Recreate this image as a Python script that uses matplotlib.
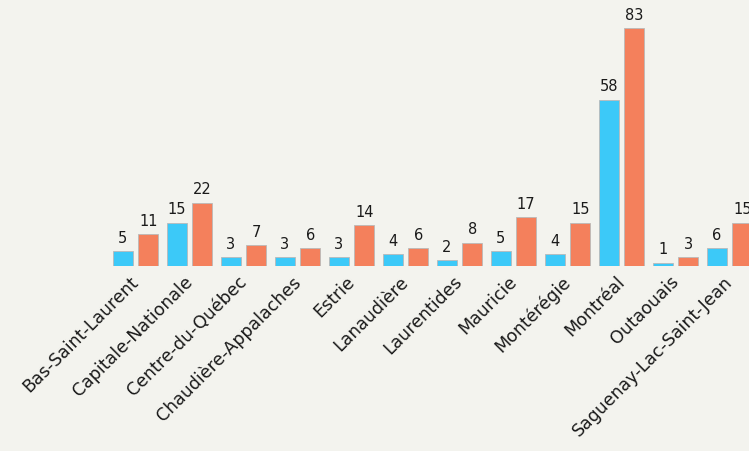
import matplotlib
matplotlib.use("Agg")
import matplotlib.pyplot as plt
import numpy as np

regions = ["Bas-Saint-Laurent", "Capitale-Nationale", "Centre-du-Québec",
           "Chaudière-Appalaches", "Estrie", "Lanaudière", "Laurentides",
           "Mauricie", "Montérégie", "Montréal", "Outaouais",
           "Saguenay-Lac-Saint-Jean"]
series_blue = [5, 15, 3, 3, 3, 4, 2, 5, 4, 58, 1, 6]
series_orange = [11, 22, 7, 6, 14, 6, 8, 17, 15, 83, 3, 15]

W, H = 749, 452
bg = "#f3f3ee"
blue = "#3cc9f8"
orange = "#f4805c"

plt.rcParams['font.family'] = ['DejaVu Sans']
fig = plt.figure(figsize=(W / 100, H / 100), dpi=100, facecolor=bg)
base_px = 266.5
ax = fig.add_axes([0, (H - base_px) / H, 1, base_px / H])
ax.set_facecolor(bg)

spacing = 54.0
c0 = 135.5
x = np.arange(len(regions))
bw = 20 / spacing
off = 12.75 / spacing
b1 = ax.bar(x - off, series_blue, bw, color=blue, edgecolor="#b9b9b9", linewidth=0.6)
b2 = ax.bar(x + off, series_orange, bw, color=orange, edgecolor="#b9b9b9", linewidth=0.6)

ax.set_xlim(-c0 / spacing, (W - c0) / spacing)
ax.set_ylim(0, base_px / 2.858)

for bars, vals in ((b1, series_blue), (b2, series_orange)):
    for r, v in zip(bars, vals):
        ax.annotate(str(v), (r.get_x() + r.get_width() / 2, v), xytext=(0, 4.5),
                    textcoords="offset points", ha="center", va="bottom",
                    fontsize=10.5, color="#1a1a1a")

ax.set_xticks(x - 6 / spacing)
ax.set_xticklabels(regions, rotation=45, ha="right", rotation_mode="anchor",
                   fontsize=12.5, color="#1a1a1a")
ax.tick_params(axis="x", length=0, pad=4.5)
ax.set_yticks([])
for s in ax.spines.values():
    s.set_visible(False)

fig.savefig("out.png", dpi=100, facecolor=bg)
